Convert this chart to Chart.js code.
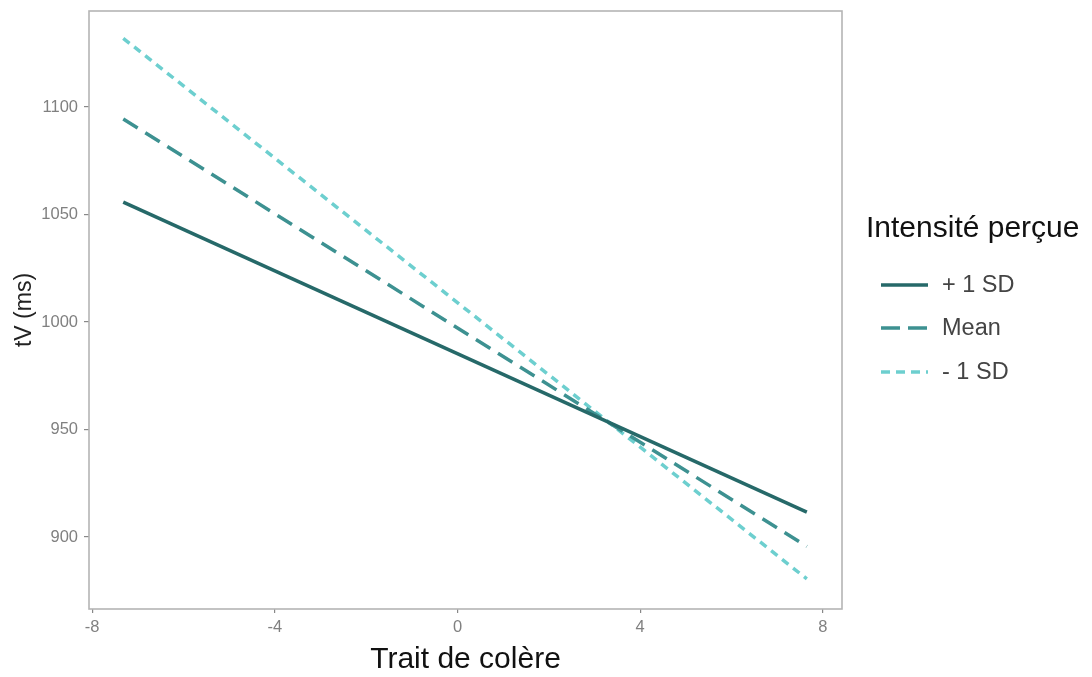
<!DOCTYPE html>
<html lang="fr">
<head>
    <meta charset="UTF-8">
    <title>tV selon le trait de colère</title>
    <script src="https://cdn.jsdelivr.net/npm/chart.js"></script>
    <style>
        html, body { margin: 0; padding: 0; background: #fff; }
        #wrap { width: 1092px; height: 677px; }
    </style>
</head>
<body>
    <div id="wrap"><canvas id="chart"></canvas></div>

    <script>
        // data
        const traitX = [-7.32, 7.65];
        const plusSD = [1055.8, 911.6];
        const meanLine = [1094.5, 895.6];
        const minusSD = [1132.0, 880.5];

        const seriesNames = ['+ 1 SD', 'Mean', '- 1 SD'];
        const seriesColors = ['#266969', '#3d9191', '#6dcfcf'];
        const seriesDash = [[], [17, 9], [8, 6]];

        const xTicks = [-8, -4, 0, 4, 8];
        const yTicks = [900, 950, 1000, 1050, 1100];

        const legendTitle = 'Intensité perçue';
        const font = "'Liberation Sans', Arial, sans-serif";

        const toPoints = ys => ys.map((y, i) => ({ x: traitX[i], y }));

        const datasets = [plusSD, meanLine, minusSD].map((ys, i) => ({
            label: seriesNames[i],
            data: toPoints(ys),
            borderColor: seriesColors[i],
            borderWidth: 3.5,
            borderDash: seriesDash[i],
            borderCapStyle: 'butt',
            pointRadius: 0,
            fill: false
        }));

        // panel border + right-hand legend
        const panelAndLegend = {
            id: 'panelAndLegend',
            afterDraw(chart) {
                const { ctx, chartArea: a } = chart;
                ctx.save();
                ctx.strokeStyle = '#b5b5b5';
                ctx.lineWidth = 1.6;
                ctx.strokeRect(a.left, a.top, a.right - a.left, a.bottom - a.top);

                ctx.fillStyle = '#111';
                ctx.font = `30px ${font}`;
                ctx.textBaseline = 'middle';
                ctx.textAlign = 'left';
                ctx.fillText(legendTitle, 866, 229);

                const rows = [285, 328, 372];
                ctx.font = `23.5px ${font}`;
                seriesNames.forEach((name, i) => {
                    ctx.strokeStyle = seriesColors[i];
                    ctx.lineWidth = 3.5;
                    ctx.setLineDash(i === 1 ? [19, 8] : i === 2 ? [9, 6] : []);
                    ctx.beginPath();
                    ctx.moveTo(881, rows[i]);
                    ctx.lineTo(928, rows[i]);
                    ctx.stroke();
                    ctx.setLineDash([]);
                    ctx.fillStyle = '#444';
                    ctx.fillText(name, 942, rows[i] + 1);
                });
                ctx.restore();
            }
        };

        new Chart(document.getElementById('chart').getContext('2d'), {
            type: 'line',
            data: { datasets },
            plugins: [panelAndLegend],
            options: {
                responsive: true,
                maintainAspectRatio: false,
                animation: false,
                layout: { padding: { top: 11, right: 250, bottom: 0, left: 0 } },
                plugins: {
                    legend: { display: false },
                    tooltip: { enabled: false }
                },
                scales: {
                    x: {
                        type: 'linear',
                        min: -8.07,
                        max: 8.42,
                        afterBuildTicks: axis => { axis.ticks = xTicks.map(v => ({ value: v })); },
                        afterFit: axis => { axis.height = 68; axis.paddingLeft = 0; axis.paddingRight = 0; },
                        grid: { drawOnChartArea: false, drawTicks: true, tickLength: 4, color: '#888', lineWidth: 1.2 },
                        border: { display: false },
                        ticks: {
                            color: '#808080',
                            font: { family: font, size: 16.5 },
                            padding: 5,
                            maxRotation: 0,
                            callback: v => String(v)
                        },
                        title: {
                            display: true,
                            text: 'Trait de colère',
                            color: '#111',
                            font: { family: font, size: 30, lineHeight: 1 },
                            padding: { top: 0, bottom: 2 }
                        }
                    },
                    y: {
                        type: 'linear',
                        min: 866.5,
                        max: 1144.7,
                        afterBuildTicks: axis => { axis.ticks = yTicks.map(v => ({ value: v })); },
                        afterFit: axis => { axis.width = 89; axis.paddingTop = 0; axis.paddingBottom = 0; },
                        grid: { drawOnChartArea: false, drawTicks: true, tickLength: 5, color: '#888', lineWidth: 1.2 },
                        border: { display: false },
                        ticks: {
                            color: '#808080',
                            font: { family: font, size: 16.5 },
                            padding: 6,
                            callback: v => String(v)
                        },
                        title: {
                            display: true,
                            text: 'tV (ms)',
                            color: '#222',
                            font: { family: font, size: 23, lineHeight: 1.2 },
                            padding: { top: 11, bottom: 0 }
                        }
                    }
                }
            }
        });
    </script>
</body>
</html>
